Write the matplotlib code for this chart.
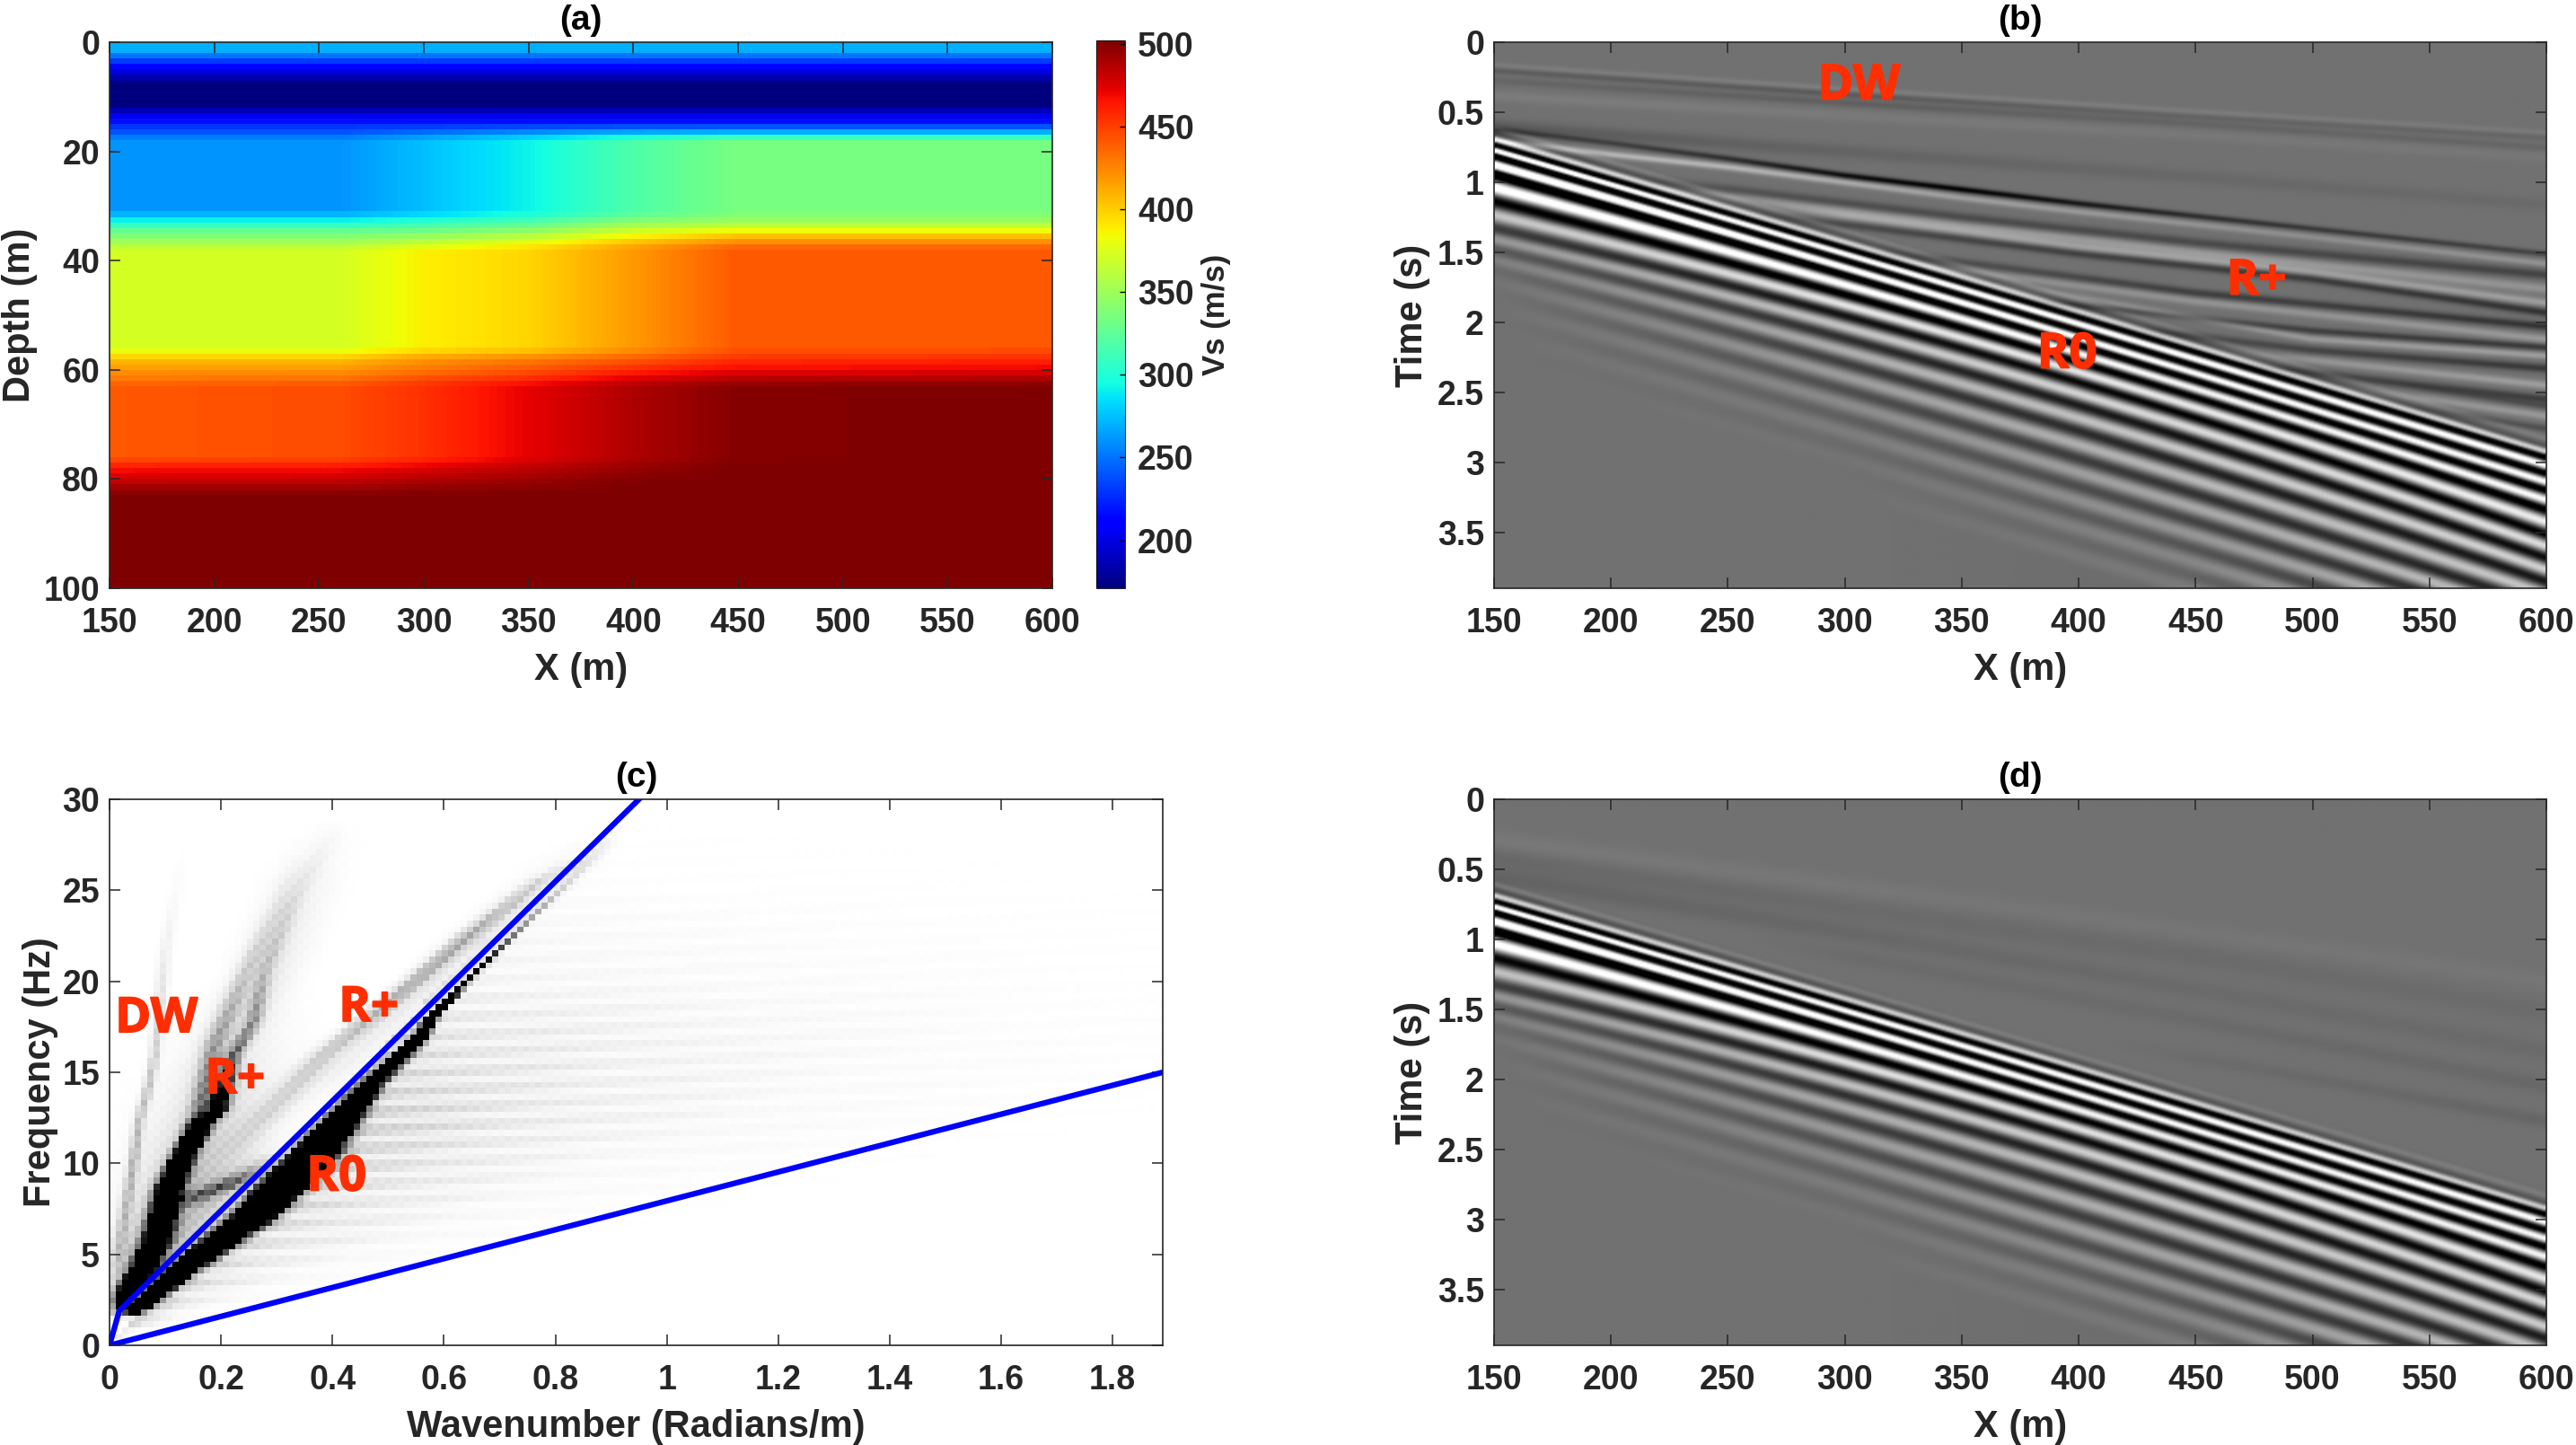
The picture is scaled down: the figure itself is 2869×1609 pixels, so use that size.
import numpy as np
import matplotlib
matplotlib.use("Agg")
import matplotlib.pyplot as plt
import matplotlib.patheffects as pe

plt.rcParams["font.family"] = ["Liberation Sans", "DejaVu Sans"]
plt.rcParams["font.weight"] = "bold"

W, H = 2869, 1609
TEXT = "#262626"
RED = "#ff2e00"

# (a) shear velocity at these positions
VS_X = [150, 260, 300, 350, 400, 450, 600]
VS_DEPTH = [0, 1.5, 3, 5, 7.5, 11.5, 13, 15, 17, 18, 31, 33, 35, 37, 38, 56, 58, 60, 62, 63, 76, 78, 80, 82, 83, 100]
VS_TABLE = [
    [270, 270, 270, 270, 270, 270, 270],
    [270, 270, 270, 270, 270, 270, 270],
    [240, 240, 240, 240, 240, 240, 240],
    [205, 205, 205, 205, 205, 205, 205],
    [172, 172, 172, 172, 172, 172, 172],
    [172, 172, 172, 172, 172, 172, 172],
    [195, 195, 195, 195, 195, 195, 195],
    [225, 225, 225, 225, 225, 225, 225],
    [245, 245, 255, 268, 280, 285, 285],
    [261, 261, 275, 292, 318, 335, 335],
    [261, 261, 275, 292, 318, 335, 335],
    [300, 300, 308, 320, 345, 352, 352],
    [335, 335, 340, 352, 378, 395, 395],
    [355, 355, 368, 385, 410, 430, 430],
    [372, 372, 388, 397, 418, 441, 441],
    [372, 372, 388, 397, 418, 441, 441],
    [405, 405, 420, 428, 440, 455, 458],
    [420, 420, 430, 442, 458, 470, 472],
    [432, 434, 448, 460, 478, 490, 492],
    [441, 445, 455, 472, 488, 500, 502],
    [441, 445, 455, 472, 488, 500, 502],
    [465, 466, 474, 484, 495, 502, 502],
    [478, 480, 486, 492, 500, 502, 502],
    [495, 495, 498, 500, 502, 502, 502],
    [502, 502, 502, 502, 502, 502, 502],
    [502, 502, 502, 502, 502, 502, 502],
]
VS_MIN, VS_MAX = 171, 502

# (b), (d) black crests of the main wave train, time at each X
CREST_X = [150, 300, 450, 600]
CREST_T = [
    [0.56, 1.32, 2.02, 2.78],
    [0.64, 1.40, 2.10, 2.88],
    [0.726, 1.49, 2.19, 2.97],
    [0.80, 1.59, 2.28, 3.09],
    [0.93, 1.70, 2.38, 3.21],
    [1.13, 1.84, 2.50, 3.35],
    [1.32, 2.00, 2.64, 3.53],
    [1.47, 2.17, 2.80, 3.70],
    [1.62, 2.35, 2.98, 3.87],
    [1.79, 2.54, 3.18, 4.05],
    [1.97, 2.74, 3.38, 4.22],
    [2.17, 2.94, 3.58, 4.40],
    [2.37, 3.14, 3.78, 4.58],
    [2.57, 3.34, 3.98, 4.76],
]
CREST_AMP = [
    [0.0, 0.0, 0.0, 0.0],
    [0.25, 0.2, 0.2, 0.2],
    [1.6, 1.5, 1.5, 1.5],
    [2.0, 1.6, 1.4, 1.3],
    [2.0, 1.6, 1.3, 1.3],
    [1.0, 1.2, 1.1, 1.2],
    [0.45, 0.85, 1.0, 1.0],
    [0.2, 0.6, 0.85, 0.9],
    [0.05, 0.45, 0.7, 0.8],
    [0.0, 0.3, 0.55, 0.7],
    [0.0, 0.15, 0.4, 0.7],
    [0.0, 0.05, 0.25, 0.6],
    [0.0, 0.0, 0.12, 0.5],
    [0.0, 0.0, 0.05, 0.4],
]

# (b) thin arrivals: X, time, amplitude at each X, width in seconds
DW_EVENTS = [
    ([150, 300, 450, 600], [0.16, 0.33, 0.49, 0.64], [0.10, 0.12, 0.10, 0.08], 0.02),
    ([150, 300, 450, 600], [0.20, 0.37, 0.53, 0.68], [-0.18, -0.2, -0.12, -0.1], 0.022),
    ([150, 300, 450, 600], [0.27, 0.43, 0.58, 0.75], [-0.1, -0.16, -0.12, -0.1], 0.028),
    ([150, 300, 450, 600], [0.38, 0.52, 0.66, 0.82], [0.1, 0.08, 0.06, 0.05], 0.04),
    ([150, 300, 450, 600], [0.60, 0.78, 0.96, 1.16], [-0.2, -0.12, -0.08, -0.06], 0.05),
]
RPLUS_EVENTS = [
    ([150, 200, 250, 300, 350, 400, 450, 500, 600], [0.62, 0.72, 0.83, 0.95, 1.05, 1.15, 1.24, 1.33, 1.51],
     [-0.35, -0.4, -0.6, -0.9, -1.0, -0.8, -0.6, -0.5, -0.4], 0.022),
    ([150, 200, 250, 300, 350, 400, 450, 500, 600], [0.70, 0.80, 0.89, 1.0, 1.11, 1.21, 1.30, 1.39, 1.58],
     [0.45, 0.6, 0.6, 0.5, 0.4, 0.35, 0.3, 0.25, 0.3], 0.024),
    ([250, 350, 450, 600], [1.05, 1.25, 1.43, 1.66], [-0.3, -0.35, -0.35, -0.4], 0.035),
    ([250, 350, 450, 600], [1.10, 1.31, 1.50, 1.76], [0.3, 0.35, 0.35, 0.3], 0.035),
    ([300, 400, 500, 600], [1.24, 1.46, 1.64, 1.86], [0.35, 0.4, 0.4, 0.4], 0.03),
    ([300, 400, 500, 600], [1.30, 1.51, 1.69, 1.93], [-0.35, -0.45, -0.5, -0.55], 0.03),
    ([350, 450, 500, 600], [1.57, 1.79, 1.87, 2.03], [-0.3, -0.45, -0.45, -0.55], 0.03),
    ([350, 450, 500, 600], [1.63, 1.85, 1.94, 2.12], [0.25, 0.3, 0.3, 0.35], 0.03),
    ([400, 500, 600], [1.88, 2.06, 2.18], [-0.3, -0.45, -0.5], 0.025),
    ([400, 500, 600], [1.82, 2.12, 2.24], [0.25, 0.35, 0.4], 0.025),
    ([450, 500, 600], [2.10, 2.20, 2.33], [-0.3, -0.4, -0.5], 0.03),
    ([500, 600], [2.27, 2.45], [0.3, 0.4], 0.03),
    ([500, 600], [2.36, 2.55], [-0.3, -0.45], 0.03),
    ([550, 600], [2.55, 2.67], [0.3, 0.35], 0.03),
    ([550, 600], [2.48, 2.60], [-0.2, -0.3], 0.025),
    ([570, 600], [2.68, 2.76], [-0.2, -0.3], 0.025),
]
# (d) only broad faint bands are left above the main train
D_EVENTS = [
    ([150, 300, 450, 600], [0.30, 0.62, 0.95, 1.30], [0.07, 0.05, 0.04, 0.04], 0.07),
    ([150, 300, 450, 600], [0.42, 0.78, 1.12, 1.52], [-0.08, -0.06, -0.06, -0.05], 0.08),
    ([150, 300, 450, 600], [0.56, 0.95, 1.36, 1.80], [-0.12, -0.08, -0.06, -0.06], 0.07),
    ([300, 450, 600], [1.12, 1.58, 2.05], [-0.05, -0.06, -0.08], 0.06),
    ([450, 600], [1.85, 2.30], [-0.05, -0.1], 0.05),
]

# (c) spectrum ridges: frequency, wavenumber, half width, amplitude
RIDGE_R0 = ([1.5, 2, 4, 6.8, 10, 14.2, 16.5, 18, 20, 21, 22, 23.3, 24.7, 27, 29],
            [0.035, 0.05, 0.125, 0.25, 0.355, 0.465, 0.545, 0.578, 0.64, 0.675, 0.707, 0.75, 0.80, 0.875, 0.93],
            [0.014, 0.014, 0.022, 0.03, 0.032, 0.016, 0.012, 0.008, 0.006, 0.006, 0.006, 0.006, 0.008, 0.012, 0.012],
            [0, 5, 5, 5, 5, 5, 5, 4, 2, 1.2, 0.8, 0.5, 0.25, 0.06, 0])
RIDGE_R1 = ([1.5, 2.7, 4.0, 5.7, 8.5, 10.4, 12.1, 12.8, 15.7, 17.7, 20.4, 24.6, 27, 29],
            [0.012, 0.021, 0.054, 0.08, 0.102, 0.129, 0.161, 0.188, 0.215, 0.255, 0.274, 0.331, 0.375, 0.41],
            [0.012, 0.014, 0.02, 0.022, 0.02, 0.016, 0.016, 0.016, 0.014, 0.014, 0.014, 0.016, 0.02, 0.02],
            [0, 3, 3, 2.5, 3, 4, 4, 1.8, 0.6, 0.4, 0.2, 0.08, 0.03, 0])
RIDGE_R1B = ([11, 12.7, 16.4, 20.4, 24, 27],
             [0.13, 0.156, 0.183, 0.24, 0.30, 0.34],
             [0.018, 0.018, 0.018, 0.018, 0.018, 0.02],
             [0, 0.5, 0.35, 0.18, 0.08, 0])
RIDGE_R2 = ([10, 12.3, 15.7, 19, 22.3, 25.3, 26.8, 28],
            [0.2, 0.27, 0.376, 0.51, 0.637, 0.764, 0.86, 0.9],
            [0.03, 0.028, 0.025, 0.02, 0.02, 0.02, 0.025, 0.025],
            [0, 0.12, 0.2, 0.3, 0.32, 0.15, 0.03, 0])
RIDGE_SIDE = ([7.3, 8.1, 8.6, 9.1, 9.8, 10.6], [0.12, 0.155, 0.2, 0.236, 0.27, 0.3],
              [0.03, 0.03, 0.03, 0.03, 0.03, 0.03], [0, 0.5, 0.6, 0.5, 0.15, 0])
RIDGE_DW = ([3, 5, 10, 12.3, 14, 15.8, 22, 25, 28], [0.005, 0.012, 0.038, 0.048, 0.064, 0.076, 0.096, 0.115, 0.13],
            [0.012, 0.012, 0.009, 0.009, 0.009, 0.009, 0.012, 0.012, 0.012], [0, 0.2, 0.3, 0.25, 0.25, 0.2, 0.06, 0.02, 0])
RIDGE_LOW = ([1, 2, 5, 8, 12, 16, 20], [0.02, 0.03, 0.08, 0.14, 0.18, 0.22, 0.26],
             [0.05, 0.05, 0.07, 0.09, 0.1, 0.1, 0.1], [0, 0.25, 0.3, 0.3, 0.16, 0.06, 0])
RIDGE_HAZE1 = ([13, 16, 20, 25, 29], [0.15, 0.2, 0.27, 0.34, 0.4],
               [0.05, 0.05, 0.055, 0.06, 0.06], [0, 0.06, 0.1, 0.05, 0])
RIDGE_HAZE2 = ([12, 15, 20, 24, 28], [0.3, 0.4, 0.58, 0.72, 0.85],
               [0.05, 0.05, 0.05, 0.05, 0.05], [0, 0.06, 0.08, 0.05, 0])
RIDGES = [RIDGE_R0, RIDGE_R1, RIDGE_R1B, RIDGE_R2, RIDGE_SIDE, RIDGE_DW, RIDGE_LOW, RIDGE_HAZE1, RIDGE_HAZE2]
FAN_SLOPE = [0.03, 0.04, 0.06, 0.09, 0.126, 0.16]
FAN_LEVEL = [0.34, 0.22, 0.11, 0.035, 0.012, 0.0]
FAN_FREQ = [0, 3, 12, 16, 20, 25, 30]
FAN_TAPER = [0.6, 1, 1, 0.6, 0.2, 0.05, 0.0]
BLUE1_K = [0, 0.0175, 0.95]
BLUE1_F = [0, 1.9, 30]
BLUE2_K = [0, 1.89]
BLUE2_F = [0, 15]

X_TICKS = [150, 200, 250, 300, 350, 400, 450, 500, 550, 600]
TIME_TICKS = [0, 0.5, 1, 1.5, 2, 2.5, 3, 3.5]
DEPTH_TICKS = [0, 20, 40, 60, 80, 100]
VS_TICKS = [200, 250, 300, 350, 400, 450, 500]
K_TICKS = [0, 0.2, 0.4, 0.6, 0.8, 1, 1.2, 1.4, 1.6, 1.8]
F_TICKS = [0, 5, 10, 15, 20, 25, 30]
T_MAX = 3.9
K_MAX = 1.89


def px_axes(fig, left, right, top, bottom):
    return fig.add_axes([left / W, 1 - bottom / H, (right - left) / W, (bottom - top) / H])


def style_axes(ax, title, xlabel, ylabel, ylabel_px):
    ax.tick_params(direction="in", top=True, right=True, length=8.6, width=1.1, color=TEXT,
                   labelcolor=TEXT, labelsize=27)
    ax.tick_params(axis="x", pad=15)
    ax.tick_params(axis="y", pad=8)
    for spine in ax.spines.values():
        spine.set_linewidth(1.2)
        spine.set_color(TEXT)
    ax.set_title(title, fontsize=28, fontweight="bold", color="black", pad=10)
    ax.set_xlabel(xlabel, fontsize=30, fontweight="bold", color=TEXT, labelpad=10)
    ax.set_ylabel(ylabel, fontsize=30, fontweight="bold", color=TEXT, va="center")
    ax.yaxis.set_label_coords(ylabel_px, 0.5)


def red_label(ax, x, y, text):
    ax.text(x, y, text, color=RED, fontsize=39, fontweight="bold", family="Open Sans",
            ha="center", va="center",
            path_effects=[pe.withStroke(linewidth=1.2, foreground=RED)])


def velocity_grid():
    x = np.arange(150, 601, 2.0)
    depth = np.arange(0.5, 100, 1.0)
    table = np.array(VS_TABLE, dtype=float)
    by_x = np.array([np.interp(depth, VS_DEPTH, table[:, j]) for j in range(table.shape[1])])
    grid = np.array([np.interp(x, VS_X, by_x[:, i]) for i in range(depth.size)])
    return grid


def crest_field(x, t, gain):
    times = np.array([np.polyval(np.polyfit(CREST_X, row, 2), x) for row in CREST_T])
    amps = np.array([np.interp(x, CREST_X, row) for row in CREST_AMP])
    index = np.arange(len(CREST_T))
    field = np.zeros((t.size, x.size))
    for j in range(x.size):
        phase = np.interp(t, times[:, j], index, left=0, right=index[-1])
        amp = np.interp(phase, index, amps[:, j])
        field[:, j] = -gain * amp * np.cos(2 * np.pi * phase)
    return field, times[2]


def add_events(field, x, t, events, front=None):
    T = t[:, None]
    for ex, et, ea, sigma in events:
        slope = (et[1] - et[0]) / (ex[1] - ex[0])
        centre = np.interp(x, ex, et)
        centre = np.where(x < ex[0], et[0] + slope * (x - ex[0]), centre)
        # fade in over 40 m so an arrival has no hard start
        amp = np.interp(x, [ex[0] - 40] + list(ex), [0] + list(ea))
        part = amp * np.exp(-((T - centre) / sigma) ** 2)
        if front is not None:
            part = part * np.clip((front - 0.03 - T) / 0.06 + 0.5, 0, 1)
        field += part
    return field


def spectrum_grid():
    k = np.arange(0, K_MAX + 0.0113, 0.0113)
    f = np.arange(0, 30.33, 0.33)
    K, F = np.meshgrid(k, f)
    img = np.zeros_like(K)
    rows, cols = np.indices(K.shape)
    checker = 0.8 + 0.2 * ((rows + cols) % 2)
    for rf, rk, rw, ra in RIDGES:
        centre = np.interp(f, rf, rk)[:, None]
        width = np.interp(f, rf, rw)[:, None]
        amp = np.interp(f, rf, ra, left=0, right=0)[:, None]
        img += amp * np.exp(-((K - centre) / width) ** 2) * checker
    slope = K / np.maximum(F, 0.1)
    fan = np.interp(slope, FAN_SLOPE, FAN_LEVEL, left=0.0, right=0.0)
    ripple = 0.65 + 0.35 * np.cos(2 * np.pi * (F / 1.0 - K * 1.5))
    img += fan * np.interp(F, FAN_FREQ, FAN_TAPER) * ripple * checker
    return img


def draw_velocity(fig):
    ax = px_axes(fig, 122, 1172, 47, 655)
    im = ax.imshow(velocity_grid(), extent=[150, 600, 100, 0], aspect="auto", cmap="jet",
                   vmin=VS_MIN, vmax=VS_MAX, interpolation="nearest")
    ax.set_xticks(X_TICKS)
    ax.set_yticks(DEPTH_TICKS)
    style_axes(ax, "(a)", "X (m)", "Depth (m)", -0.095)
    cax = px_axes(fig, 1221, 1253, 45, 655)
    cbar = fig.colorbar(im, cax=cax)
    cbar.set_ticks(VS_TICKS)
    cbar.outline.set_linewidth(0.6)
    cax.tick_params(direction="in", length=4, width=1, color="black", labelcolor=TEXT, labelsize=27, pad=10)
    cbar.set_label("Vs (m/s)", fontsize=25, fontweight="bold", color=TEXT, labelpad=6)


def draw_section(ax, field, title):
    ax.imshow(field, extent=[150, 600, T_MAX, 0], aspect="auto", cmap="gray", vmin=-1, vmax=1.25,
              interpolation="bilinear")
    ax.set_xticks(X_TICKS)
    ax.set_yticks(TIME_TICKS)
    ax.set_yticklabels([f"{v:g}" for v in TIME_TICKS])
    style_axes(ax, title, "X (m)", "Time (s)", -0.078)


def draw_spectrum(fig):
    ax = px_axes(fig, 122, 1295, 890, 1498)
    ax.imshow(spectrum_grid(), extent=[0, 1.9, 0, 30.2], origin="lower", aspect="auto",
              cmap="gray_r", vmin=0, vmax=1, interpolation="nearest")
    ax.plot(BLUE1_K, BLUE1_F, color="#0000ff", lw=4.5)
    ax.plot(BLUE2_K, BLUE2_F, color="#0000ff", lw=4.5)
    ax.set_xlim(0, K_MAX)
    ax.set_ylim(0, 30)
    ax.set_xticks(K_TICKS)
    ax.set_xticklabels([f"{v:g}" for v in K_TICKS])
    ax.set_yticks(F_TICKS)
    style_axes(ax, "(c)", "Wavenumber (Radians/m)", "Frequency (Hz)", -0.066)
    red_label(ax, 0.084, 17.9, "DW")
    red_label(ax, 0.465, 18.5, "R+")
    red_label(ax, 0.225, 14.55, "R+")
    red_label(ax, 0.407, 9.2, "R0")


def main():
    fig = plt.figure(figsize=(W / 100, H / 100), dpi=100)
    draw_velocity(fig)

    x = np.arange(150, 601, 2.0)
    t = np.arange(0, T_MAX + 0.005, 0.01)

    field_b, front = crest_field(x, t, 1.0)
    field_b = add_events(field_b, x, t, DW_EVENTS)
    field_b = add_events(field_b, x, t, RPLUS_EVENTS, front)
    ax_b = px_axes(fig, 1664, 2836, 47, 655)
    draw_section(ax_b, field_b, "(b)")
    red_label(ax_b, 306, 0.318, "DW")
    red_label(ax_b, 476, 1.71, "R+")
    red_label(ax_b, 395, 2.236, "R0")

    draw_spectrum(fig)

    field_d, front_d = crest_field(x, t, 0.95)
    field_d = add_events(field_d, x, t, D_EVENTS, front_d)
    ax_d = px_axes(fig, 1664, 2836, 890, 1498)
    draw_section(ax_d, field_d, "(d)")

    fig.savefig("out.png", dpi=100)


if __name__ == "__main__":
    main()
